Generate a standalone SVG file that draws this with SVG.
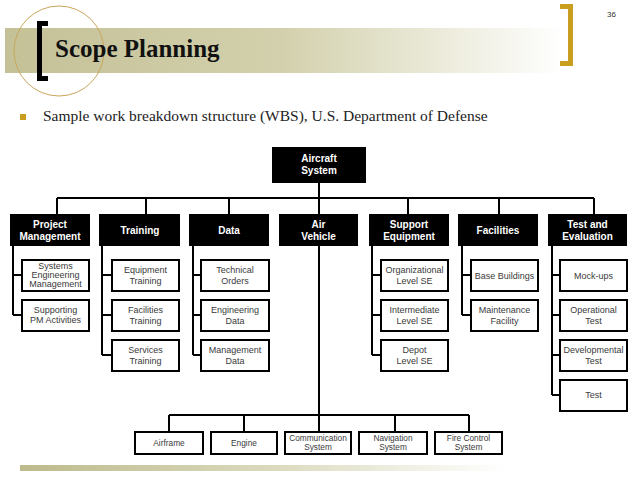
<svg xmlns="http://www.w3.org/2000/svg" width="638" height="479" viewBox="0 0 638 479">
<defs>
<linearGradient id="band" x1="0" y1="0" x2="1" y2="0">
<stop offset="0" stop-color="#c4c197"/>
<stop offset="0.5" stop-color="#d3d1ad"/>
<stop offset="1" stop-color="#ffffff"/>
</linearGradient>
<linearGradient id="foot" x1="0" y1="0" x2="1" y2="0">
<stop offset="0" stop-color="#bdbb8c"/>
<stop offset="0.5" stop-color="#d9d8bb"/>
<stop offset="1" stop-color="#ffffff"/>
</linearGradient>
<style>
.main rect{fill:#000}
.main text{fill:#fff;font-family:"Liberation Sans",Arial,sans-serif;font-weight:bold;font-size:10px;text-anchor:middle}
.sub rect{fill:#fff;stroke:#000;stroke-width:2}
.sub text{fill:#3a3a3a;font-family:"Liberation Sans",Arial,sans-serif;font-size:9px;text-anchor:middle}
.bot text{font-size:8.3px}
#connectors path{fill:none;stroke:#000;stroke-width:2}
</style>
</defs>
<rect width="638" height="479" fill="#fff"/>
<!-- header -->
<rect x="5" y="28" width="560" height="45" fill="url(#band)"/>
<circle cx="59" cy="51" r="45" fill="none" stroke="#c9a65a" stroke-width="1"/>
<path d="M48 23.5 H39.5 V78.5 H48" fill="none" stroke="#000" stroke-width="5"/>
<path d="M560 6.5 H570.5 V63.5 H560" fill="none" stroke="#c99e1e" stroke-width="5"/>
<text x="55" y="57" font-family="'Liberation Serif',serif" font-size="25" font-weight="bold" fill="#111">Scope Planning</text>
<text x="607" y="17" font-family="'Liberation Sans',Arial,sans-serif" font-size="8" fill="#333">36</text>
<rect x="20" y="114" width="6" height="6" fill="#c99e1e"/>
<text x="43" y="121" font-family="'Liberation Serif',serif" font-size="15.5" fill="#222">Sample work breakdown structure (WBS), U.S. Department of Defense</text>
<rect x="20" y="465" width="486" height="6" fill="url(#foot)"/>
<!-- connectors -->
<g id="connectors">
<path d="M319 183 V198 M57 198 H594 M57 198 V214 M146 198 V214 M229 198 V214 M319 198 V214 M408 198 V214 M499 198 V214 M594 198 V214"/>
<path d="M13 246 V315 M13 275 H22 M13 315 H22"/>
<path d="M102 246 V355 M102 275 H112 M102 315 H112 M102 355 H112"/>
<path d="M193 246 V355 M193 275 H201 M193 315 H201 M193 355 H201"/>
<path d="M372 246 V355 M372 275 H381 M372 315 H381 M372 355 H381"/>
<path d="M462 246 V315 M462 275 H471 M462 315 H471"/>
<path d="M552 246 V395 M552 275 H560 M552 315 H560 M552 355 H560 M552 395 H560"/>
<path d="M319 246 V415 M169 415 H469 M169 415 V432 M244 415 V432 M319 415 V432 M395 415 V432 M469 415 V432"/>
</g>
<!-- level 1 -->
<g id="aircraft-system" class="main"><rect x="272" y="147" width="94" height="36"/><text x="319" y="162">Aircraft</text><text x="319" y="174">System</text></g>
<!-- level 2 -->
<g id="project-management" class="main"><rect x="10" y="214" width="80" height="32"/><text x="50" y="228">Project</text><text x="50" y="240">Management</text></g>
<g id="training" class="main"><rect x="99" y="214" width="81" height="32"/><text x="140" y="234">Training</text></g>
<g id="data" class="main"><rect x="189" y="214" width="80" height="32"/><text x="229" y="234">Data</text></g>
<g id="air-vehicle" class="main"><rect x="279" y="214" width="79" height="32"/><text x="318.5" y="228">Air</text><text x="318.5" y="240">Vehicle</text></g>
<g id="support-equipment" class="main"><rect x="369" y="214" width="80" height="32"/><text x="409" y="228">Support</text><text x="409" y="240">Equipment</text></g>
<g id="facilities" class="main"><rect x="458" y="214" width="80" height="32"/><text x="498" y="234">Facilities</text></g>
<g id="test-and-evaluation" class="main"><rect x="548" y="214" width="79" height="32"/><text x="587.5" y="228">Test and</text><text x="587.5" y="240">Evaluation</text></g>
<!-- level 3 -->
<g id="systems-engineering-management" class="sub"><rect x="22" y="260" width="67" height="31"/><text x="55.5" y="269">Systems</text><text x="55.5" y="278">Engineering</text><text x="55.5" y="287">Management</text></g>
<g id="supporting-pm-activities" class="sub"><rect x="22" y="300" width="67" height="31"/><text x="55.5" y="313">Supporting</text><text x="55.5" y="323">PM Activities</text></g>
<g id="equipment-training" class="sub"><rect x="112" y="260" width="67" height="31"/><text x="145.5" y="273">Equipment</text><text x="145.5" y="284">Training</text></g>
<g id="facilities-training" class="sub"><rect x="112" y="300" width="67" height="31"/><text x="145.5" y="313">Facilities</text><text x="145.5" y="324">Training</text></g>
<g id="services-training" class="sub"><rect x="112" y="340" width="67" height="31"/><text x="145.5" y="353">Services</text><text x="145.5" y="364">Training</text></g>
<g id="technical-orders" class="sub"><rect x="201" y="260" width="68" height="31"/><text x="235" y="273">Technical</text><text x="235" y="284">Orders</text></g>
<g id="engineering-data" class="sub"><rect x="201" y="300" width="68" height="31"/><text x="235" y="313">Engineering</text><text x="235" y="324">Data</text></g>
<g id="management-data" class="sub"><rect x="201" y="340" width="68" height="31"/><text x="235" y="353">Management</text><text x="235" y="364">Data</text></g>
<g id="organizational-level-se" class="sub"><rect x="381" y="260" width="67" height="31"/><text x="414.5" y="273">Organizational</text><text x="414.5" y="284">Level SE</text></g>
<g id="intermediate-level-se" class="sub"><rect x="381" y="300" width="67" height="31"/><text x="414.5" y="313">Intermediate</text><text x="414.5" y="324">Level SE</text></g>
<g id="depot-level-se" class="sub"><rect x="381" y="340" width="67" height="31"/><text x="414.5" y="353">Depot</text><text x="414.5" y="364">Level SE</text></g>
<g id="base-buildings" class="sub"><rect x="471" y="260" width="67" height="31"/><text x="504.5" y="279">Base Buildings</text></g>
<g id="maintenance-facility" class="sub"><rect x="471" y="300" width="67" height="31"/><text x="504.5" y="313">Maintenance</text><text x="504.5" y="324">Facility</text></g>
<g id="mock-ups" class="sub"><rect x="560" y="260" width="67" height="31"/><text x="593.5" y="279">Mock-ups</text></g>
<g id="operational-test" class="sub"><rect x="560" y="300" width="67" height="31"/><text x="593.5" y="313">Operational</text><text x="593.5" y="324">Test</text></g>
<g id="developmental-test" class="sub"><rect x="560" y="340" width="67" height="31"/><text x="593.5" y="353">Developmental</text><text x="593.5" y="364">Test</text></g>
<g id="test" class="sub"><rect x="560" y="380" width="67" height="31"/><text x="593.5" y="398">Test</text></g>
<!-- air vehicle children -->
<g id="airframe" class="sub bot"><rect x="135" y="432" width="68" height="22"/><text x="169" y="446">Airframe</text></g>
<g id="engine" class="sub bot"><rect x="211" y="432" width="66" height="22"/><text x="244" y="446">Engine</text></g>
<g id="communication-system" class="sub bot"><rect x="285" y="432" width="66" height="22"/><text x="318" y="441">Communication</text><text x="318" y="450">System</text></g>
<g id="navigation-system" class="sub bot"><rect x="359" y="432" width="68" height="22"/><text x="393" y="441">Navigation</text><text x="393" y="450">System</text></g>
<g id="fire-control-system" class="sub bot"><rect x="435" y="432" width="67" height="22"/><text x="468.5" y="441">Fire Control</text><text x="468.5" y="450">System</text></g>
</svg>
